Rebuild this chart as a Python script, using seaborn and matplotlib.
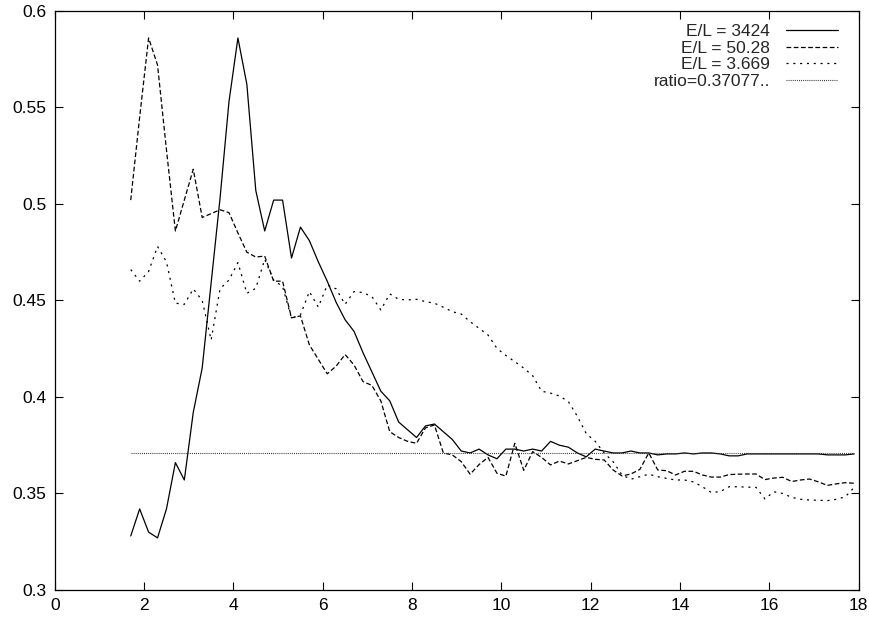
import numpy as np
import pandas as pd
import matplotlib
matplotlib.use("Agg")
import matplotlib.pyplot as plt
import seaborn as sns

# x grid shared by the three runs
x_vals = [1.7, 1.9, 2.1, 2.3, 2.5, 2.7, 2.9, 3.1, 3.3, 3.5,
          3.7, 3.9, 4.1, 4.3, 4.5, 4.7, 4.9, 5.1, 5.3, 5.5,
          5.7, 5.9, 6.1, 6.3, 6.5, 6.7, 6.9, 7.1, 7.3, 7.5,
          7.7, 7.9, 8.1, 8.3, 8.5, 8.7, 8.9, 9.1, 9.3, 9.5,
          9.7, 9.9, 10.1, 10.3, 10.5, 10.7, 10.9, 11.1, 11.3, 11.5,
          11.7, 11.9, 12.1, 12.3, 12.5, 12.7, 12.9, 13.1, 13.3, 13.5,
          13.7, 13.9, 14.1, 14.3, 14.5, 14.7, 14.9, 15.1, 15.3, 15.5,
          15.7, 15.9, 16.1, 16.3, 16.5, 16.7, 16.9, 17.1, 17.3, 17.5,
          17.7, 17.9]

# E/L = 3424
y_3424 = [0.328, 0.342, 0.330, 0.327, 0.342, 0.366, 0.357, 0.392, 0.415, 0.459,
          0.503, 0.553, 0.586, 0.562, 0.507, 0.486, 0.502, 0.502, 0.472, 0.488,
          0.481, 0.470, 0.460, 0.449, 0.440, 0.434, 0.423, 0.413, 0.403, 0.398,
          0.387, 0.383, 0.379, 0.385, 0.386, 0.382, 0.378, 0.372, 0.371, 0.373,
          0.370, 0.368, 0.373, 0.373, 0.372, 0.373, 0.372, 0.377, 0.375, 0.374,
          0.371, 0.369, 0.373, 0.372, 0.371, 0.371, 0.372, 0.371, 0.371, 0.370,
          0.3705, 0.3705, 0.371, 0.3705, 0.371, 0.371, 0.3705, 0.3695, 0.3695, 0.3705,
          0.3705, 0.3705, 0.3705, 0.3705, 0.3705, 0.3705, 0.3705, 0.3705, 0.370, 0.370,
          0.370, 0.3705]

# E/L = 50.28
y_5028 = [0.502, 0.545, 0.586, 0.572, 0.528, 0.486, 0.502, 0.518, 0.493, 0.495,
          0.497, 0.4955, 0.485, 0.475, 0.4725, 0.473, 0.460, 0.460, 0.441, 0.442,
          0.427, 0.4195, 0.412, 0.416, 0.422, 0.4166, 0.408, 0.406, 0.398, 0.382,
          0.379, 0.377, 0.376, 0.384, 0.3855, 0.371, 0.370, 0.3665, 0.360, 0.365,
          0.3687, 0.3605, 0.359, 0.376, 0.362, 0.3717, 0.3687, 0.3648, 0.3668, 0.3653,
          0.367, 0.3687, 0.3677, 0.3674, 0.3622, 0.3591, 0.3601, 0.3625, 0.371, 0.3622,
          0.3618, 0.3596, 0.3615, 0.3615, 0.3596, 0.3585, 0.3585, 0.3598, 0.360, 0.3601,
          0.3601, 0.3572, 0.358, 0.3584, 0.3562, 0.357, 0.3575, 0.356, 0.3542, 0.355,
          0.3556, 0.3553]

# E/L = 3.669
y_3669 = [0.466, 0.460, 0.465, 0.478, 0.470, 0.4486, 0.448, 0.456, 0.450, 0.4295,
          0.456, 0.4606, 0.4696, 0.4537, 0.4563, 0.4713, 0.4606, 0.4572, 0.4408, 0.4425,
          0.4546, 0.4466, 0.458, 0.456, 0.448, 0.4546, 0.4541, 0.452, 0.4451, 0.4534,
          0.4506, 0.4503, 0.4506, 0.4494, 0.4486, 0.4465, 0.4442, 0.443, 0.439, 0.4356,
          0.4321, 0.4252, 0.4215, 0.4183, 0.415, 0.411, 0.403, 0.402, 0.4005, 0.3976,
          0.390, 0.381, 0.377, 0.371, 0.3665, 0.3596, 0.3574, 0.3587, 0.360, 0.3587,
          0.3578, 0.357, 0.357, 0.356, 0.3535, 0.3505, 0.351, 0.3535, 0.3535, 0.3533,
          0.3532, 0.3472, 0.3509, 0.350, 0.348, 0.347, 0.3466, 0.3465, 0.3463, 0.347,
          0.3483, 0.3532]

ratio = 0.37077
ratio_x = [x_vals[0], x_vals[-1]]

x_ticks = [0, 2, 4, 6, 8, 10, 12, 14, 16, 18]
y_ticks = [0.3, 0.35, 0.4, 0.45, 0.5, 0.55, 0.6]
y_ticklabels = ["0.3", "0.35", "0.4", "0.45", "0.5", "0.55", "0.6"]

sns.set_style("ticks")
plt.rcParams["font.family"] = ["Liberation Sans", "DejaVu Sans"]
plt.rcParams["lines.scale_dashes"] = False
plt.rcParams["xtick.direction"] = "in"
plt.rcParams["ytick.direction"] = "in"

fig = plt.figure(figsize=(8.7, 6.18), dpi=100)
ax = fig.add_axes([0.063, 0.0453, 0.924, 0.937])

lw = 0.9
sns.lineplot(x=x_vals, y=y_3424, ax=ax, color="black", lw=lw,
             label="E/L = 3424", errorbar=None)
sns.lineplot(x=x_vals, y=y_5028, ax=ax, color="black", lw=lw,
             linestyle=(0, (3.4, 1.8)), label="E/L = 50.28", errorbar=None)
sns.lineplot(x=x_vals, y=y_3669, ax=ax, color="black", lw=lw,
             linestyle=(0, (1.5, 3.4)), label="E/L = 3.669", errorbar=None)
sns.lineplot(x=ratio_x, y=[ratio, ratio], ax=ax, color="#333333", lw=0.8,
             linestyle=(0, (0.7, 0.8)), label="ratio=0.37077..", errorbar=None)

ax.set_xlim(0, 18)
ax.set_ylim(0.3, 0.6)
ax.set_xticks(x_ticks)
ax.set_yticks(y_ticks)
ax.set_yticklabels(y_ticklabels)
ax.tick_params(axis="both", which="both", top=True, right=True, length=6,
               width=0.8, labelsize=12.5, colors="black", pad=6)
for s in ax.spines.values():
    s.set_visible(True)
    s.set_color("black")
    s.set_linewidth(0.9)
ax.set_xlabel("")
ax.set_ylabel("")

leg = ax.legend(loc="upper right", frameon=False, markerfirst=False,
                handlelength=3.0, fontsize=12.5, labelspacing=0.08,
                handletextpad=0.9, borderpad=0, borderaxespad=0,
                bbox_to_anchor=(0.974, 0.977))

fig.savefig("out.png", dpi=100)
